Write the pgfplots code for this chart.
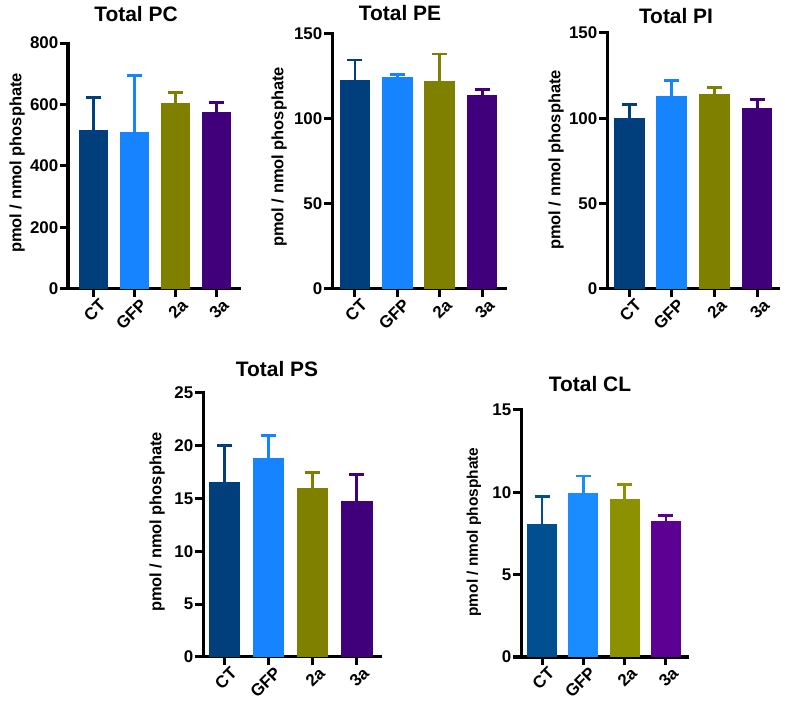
\documentclass[border=0pt]{standalone}
\usepackage{pgfplots}
\pgfplotsset{compat=1.18}
\usepackage{fontspec}
\setmainfont{Liberation Sans}
\definecolor{cCT}{RGB}{0,62,124}
\definecolor{cGFP}{RGB}{22,132,255}
\definecolor{c2a}{RGB}{128,128,0}
\definecolor{c3a}{RGB}{64,0,124}
\definecolor{dCT}{RGB}{0,80,145}
\definecolor{dGFP}{RGB}{26,140,255}
\definecolor{d2a}{RGB}{140,145,0}
\definecolor{d3a}{RGB}{92,0,148}
\pgfplotsset{
  panel/.style={
    scale only axis, anchor=south west,
    axis x line*=bottom, axis y line*=left,
    ymin=0, ybar,
    xtick={0,1,2,3}, xticklabels={CT,GFP,2a,3a},
    xticklabel style={rotate=45, anchor=north east, inner sep=1pt, xshift=4bp, yshift=-3bp, font=\fontsize{17}{18}\selectfont\bfseries},
    yticklabel style={font=\fontsize{17}{18}\selectfont\bfseries, inner sep=1.5pt},
    /pgf/number format/assume math mode=true,
    tick align=outside, major tick length=8bp,
    axis line style={line width=3bp, line cap=rect},
    every tick/.style={line width=3bp, black},
    xtick style={draw=black, line width=3bp},
    ytick style={draw=black, line width=3bp},
    minor tick num=0,
    error bars/y dir=plus, error bars/y explicit,
  },
  b/.style={fill=#1, draw=none, bar shift=0pt, bar width=0.72,
    error bars/error bar style={line width=2.8bp, color=#1},
    error bars/error mark options={rotate=90, mark size=7.5bp, line width=2.8bp, color=#1}},
}
\begin{document}
\begin{tikzpicture}
\useasboundingbox (0bp,0bp) rectangle (785bp,714bp);
% Total PC
\begin{axis}[panel, at={(68bp,425bp)}, width=171bp, height=246bp,
  xmin=-0.62, xmax=3.55, ymax=800, ytick={0,200,400,600,800}]
\addplot[b=cCT]  coordinates {(0,518) +- (0,104)};
\addplot[b=cGFP] coordinates {(1,512) +- (0,182)};
\addplot[b=c2a]  coordinates {(2,605) +- (0,35)};
\addplot[b=c3a]  coordinates {(3,577) +- (0,30)};
\end{axis}
% Total PE
\begin{axis}[panel, at={(332bp,425bp)}, width=173bp, height=255bp,
  xmin=-0.54, xmax=3.54, ymax=150, ytick={0,50,100,150}]
\addplot[b=cCT]  coordinates {(0,122.9) +- (0,11.8)};
\addplot[b=cGFP] coordinates {(1,124.9) +- (0,1.5)};
\addplot[b=c2a]  coordinates {(2,122.5) +- (0,15.7)};
\addplot[b=c3a]  coordinates {(3,114.3) +- (0,3.1)};
\end{axis}
% Total PI
\begin{axis}[panel, at={(607bp,425bp)}, width=171bp, height=256bp,
  xmin=-0.52, xmax=3.49, ymax=150, ytick={0,50,100,150}]
\addplot[b=cCT]  coordinates {(0,100.4) +- (0,7.8)};
\addplot[b=cGFP] coordinates {(1,112.9) +- (0,9.4)};
\addplot[b=c2a]  coordinates {(2,114.1) +- (0,3.9)};
\addplot[b=c3a]  coordinates {(3,106.3) +- (0,4.6)};
\end{axis}
% Total PS
\begin{axis}[panel, at={(203bp,57bp)}, width=177bp, height=264bp,
  xmin=-0.49, xmax=3.53, ymax=25, ytick={0,5,10,15,20,25}]
\addplot[b=cCT]  coordinates {(0,16.6) +- (0,3.4)};
\addplot[b=cGFP] coordinates {(1,18.8) +- (0,2.2)};
\addplot[b=c2a]  coordinates {(2,16.0) +- (0,1.5)};
\addplot[b=c3a]  coordinates {(3,14.8) +- (0,2.5)};
\end{axis}
% Total CL
\begin{axis}[panel, at={(521bp,57bp)}, width=166bp, height=247bp,
  xmin=-0.51, xmax=3.51, ymax=15, ytick={0,5,10,15}]
\addplot[b=dCT]  coordinates {(0,8.07) +- (0,1.70)};
\addplot[b=dGFP] coordinates {(1,9.97) +- (0,1.02)};
\addplot[b=d2a]  coordinates {(2,9.57) +- (0,0.89)};
\addplot[b=d3a]  coordinates {(3,8.23) +- (0,0.38)};
\end{axis}
% titles
\begin{scope}[every node/.style={font=\fontsize{21}{23}\selectfont\bfseries, inner sep=0pt}]
\node at (136bp,700bp) {Total PC};
\node at (400bp,701bp) {Total PE};
\node at (676bp,698bp) {Total PI};
\node at (277bp,345bp) {Total PS};
\node at (590bp,330bp) {Total CL};
\end{scope}
% y labels
\begin{scope}[every node/.style={font=\fontsize{16.5}{18}\selectfont\bfseries, inner sep=0pt, rotate=90}]
\node at (17bp,551bp) {pmol / nmol phosphate};
\node at (279bp,557bp) {pmol / nmol phosphate};
\node at (556bp,554bp) {pmol / nmol phosphate};
\node at (157bp,192bp) {pmol / nmol phosphate};
\node[font=\fontsize{15.5}{17}\selectfont\bfseries] at (474bp,182bp) {pmol / nmol phosphate};
\end{scope}
\end{tikzpicture}
\end{document}
